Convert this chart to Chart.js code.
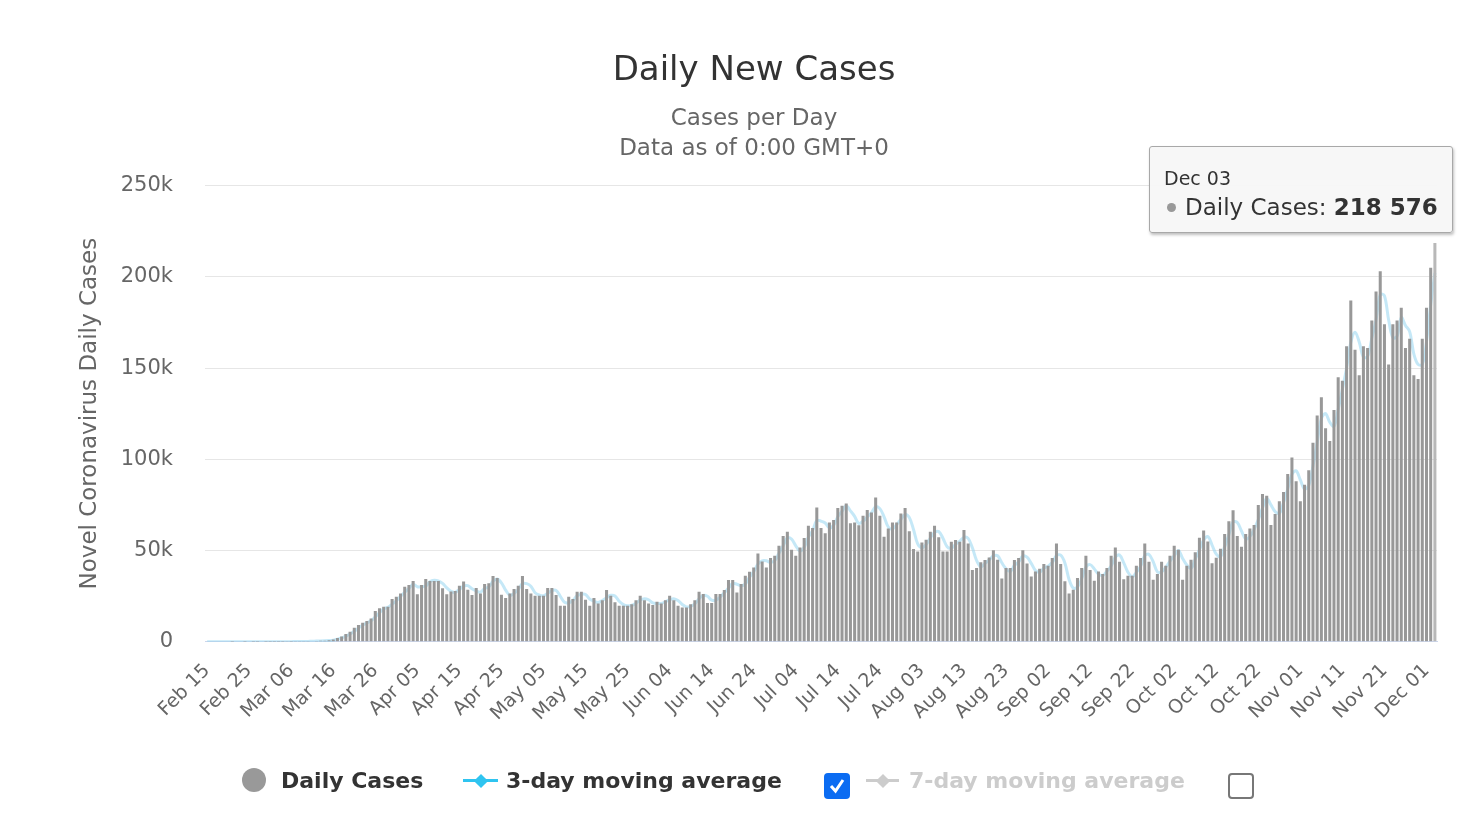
<!DOCTYPE html>
<html>
<head>
<meta charset="utf-8">
<title>Daily New Cases</title>
<script src="https://cdn.jsdelivr.net/npm/chart.js@4.4.0/dist/chart.umd.min.js"></script>
<style>
  html, body { margin: 0; padding: 0; background: #fff; }
  body { width: 1480px; height: 833px; position: relative; overflow: hidden; font-family: "DejaVu Sans", sans-serif; }
  #casesChart { position: absolute; left: 0; top: 0; }
  #tip { position: absolute; left: 1149px; top: 146px; width: 302px; height: 85px; background: rgba(247,247,247,0.96);
         border: 1px solid #a8a8a8; border-radius: 3px; box-shadow: 1px 2px 3px rgba(0,0,0,0.25); color: #333; }
  #tip .date { position: absolute; left: 14px; top: 20px; font-size: 19px; }
  #tip .row { position: absolute; left: 14px; top: 47px; font-size: 23px; white-space: nowrap; }
  #tip .bullet { display: inline-block; width: 9px; height: 9px; border-radius: 50%; background: #999; margin: 0 9px 3px 3px; vertical-align: middle; }
  .lg { position: absolute; font-size: 22px; font-weight: bold; color: #333; top: 768px; white-space: nowrap; }
  .dot { position: absolute; left: 242px; top: 768px; width: 24px; height: 24px; border-radius: 50%; background: #999; }
  .mark { position: absolute; top: 779px; height: 3px; }
  .mark i { position: absolute; left: 50%; top: 50%; width: 10px; height: 10px; margin: -5px 0 0 -5px; transform: rotate(45deg); background: inherit; }
  .box { position: absolute; top: 773px; width: 26px; height: 26px; border-radius: 4px; box-sizing: border-box; }
</style>
</head>
<body>
<canvas id="casesChart" width="1480" height="833"></canvas>

<div id="tip"><div class="date"></div><div class="row"><span class="bullet"></span>Daily Cases: <b class="val"></b></div></div>

<span class="dot"></span>
<span class="lg" style="left:281px">Daily Cases</span>
<span class="mark" style="left:463px;width:35px;background:#2fc4f0"><i></i></span>
<span class="lg" style="left:506px">3-day moving average</span>
<span class="box" style="left:824px;background:#0b6cf2"><svg width="26" height="26"><path d="M7 13 L11.5 18 L19 7" stroke="#fff" stroke-width="3" fill="none"/></svg></span>
<span class="mark" style="left:866px;width:33px;background:#cccccc"><i></i></span>
<span class="lg" style="left:909px;color:#cccccc">7-day moving average</span>
<span class="box" style="left:1228px;border:2px solid #777"></span>

<script>
// daily new cases, one array per month (Feb starts on the 15th)
const feb = [0, 0, 0, 0, 0, 0, 2, 0, 0, 18, 0, 6, 1, 0, 8];
const mar = [7, 23, 20, 31, 68, 45, 140, 116, 65, 376, 322, 382, 516, 548, 772,
  1200, 2000, 2900, 4300, 5500, 7600, 9200, 10400, 11300, 12800,
  16800, 18300, 19200, 19200, 23400, 24700];
const apr = [26500, 30200, 31100, 33300, 26000, 31100, 34400, 33300, 33300, 33300,
  29300, 26000, 27500, 27800, 30700, 33000, 28500, 25600, 29400, 26500,
  31600, 32000, 36000, 35000, 25800, 24000, 26500, 28900, 30700, 36000];
const may = [28900, 26500, 25200, 25200, 25200, 29400, 29400, 25600, 19700, 19700,
  24700, 23400, 27400, 27400, 23000, 19700, 24000, 21000, 22800, 28300,
  25200, 21600, 19700, 19700, 19700, 20600, 22800, 25200, 22800, 21000, 20100];
const jun = [21900, 21000, 22800, 25200, 22800, 19700, 18800, 18800, 20600, 22800,
  27400, 26100, 21200, 21200, 26100, 26100, 28300, 33800, 33800, 27000,
  31600, 36200, 38400, 40700, 48400, 44000, 40700, 45900, 47100, 52600];
const jul = [58000, 60300, 50400, 47100, 51700, 56800, 63600, 62300, 73600, 62300,
  59400, 65400, 66700, 73300, 74500, 75800, 64900, 65400, 63900, 69000,
  72200, 70900, 79000, 69000, 57500, 62100, 65400, 65400, 70300, 73300, 60500];
const aug = [50800, 49500, 54400, 55900, 60300, 63600, 57200, 49500, 49500, 54800,
  55700, 54800, 61200, 53900, 39300, 40400, 43500, 44800, 46200, 50200,
  45000, 34700, 40400, 40400, 44800, 45900, 50200, 42900, 35800, 38500, 40000];
const sep = [42600, 41700, 45900, 53900, 42600, 33100, 26500, 28500, 34900, 40400,
  47100, 39300, 33400, 38500, 37100, 40400, 47100, 51700, 43800, 34300,
  36200, 36200, 41700, 45900, 53900, 43800, 34000, 37100, 43800, 41700];
const oct = [47100, 52600, 50400, 34000, 41700, 45000, 49000, 57000, 61000, 55000,
  43000, 46000, 51000, 59000, 66000, 72000, 58000, 52000, 59000, 62000,
  64000, 75000, 81000, 80000, 64000, 70000, 77000, 82000, 92000, 101000, 88000];
const nov = [77000, 86000, 94000, 109000, 124000, 134000, 117000, 110000, 127000, 145000,
  143000, 162000, 187000, 160000, 146000, 162000, 161000, 176000, 192000, 203000,
  174000, 152000, 174000, 176000, 183000, 161000, 166000, 146000, 144000, 166000];
const dec = [183000, 205000, 218576];

const monthNames = ['Feb', 'Mar', 'Apr', 'May', 'Jun', 'Jul', 'Aug', 'Sep', 'Oct', 'Nov', 'Dec'];
const months = [feb, mar, apr, may, jun, jul, aug, sep, oct, nov, dec];
const firstDay = 15;      // Feb 15
const labelEvery = 10;    // a date label every 10 days
const yTicks = [0, 50000, 100000, 150000, 200000, 250000];
const yTickLabels = ['0', '50k', '100k', '150k', '200k', '250k'];

const dayLabels = [];
const dailyCases = [];
months.forEach((vals, m) => {
  vals.forEach((v, i) => {
    const d = (m === 0 ? firstDay : 1) + i;
    dayLabels.push(monthNames[m] + ' ' + String(d).padStart(2, '0'));
    dailyCases.push(v);
  });
});

// 3-day moving average of the daily values
const avg3 = dailyCases.map((v, i) => {
  const win = dailyCases.slice(Math.max(0, i - 2), i + 1);
  return win.reduce((a, b) => a + b, 0) / win.length;
});

const last = dailyCases.length - 1;
document.querySelector('#tip .date').textContent = dayLabels[last];
document.querySelector('#tip .val').textContent = String(dailyCases[last]).replace(/\B(?=(\d{3})+(?!\d))/g, ' ');

const FONT = '"DejaVu Sans", sans-serif';

let ctx = document.getElementById('casesChart').getContext('2d');
let casesChart = new Chart(ctx, {
  type: 'bar',
  data: {
    labels: dayLabels,
    datasets: [{
      type: 'bar',
      label: 'Daily Cases',
      data: dailyCases,
      backgroundColor: c => c.dataIndex === last ? '#b8b8b8' : '#989898',
      barPercentage: 0.72,
      categoryPercentage: 1,
      order: 1
    }, {
      type: 'line',
      label: '3-day moving average',
      data: avg3,
      borderColor: 'rgba(150, 214, 240, 0.55)',
      borderWidth: 3,
      pointRadius: 0,
      tension: 0.35,
      order: 2
    }]
  },
  options: {
    responsive: false,
    animation: false,
    layout: { padding: { left: 71, right: 43, top: 0, bottom: 90 } },
    plugins: {
      legend: { display: false },
      tooltip: { enabled: false },
      title: {
        display: true, text: 'Daily New Cases', color: '#333',
        font: { family: FONT, size: 34, weight: 'normal' },
        padding: { top: 51, bottom: 0 }
      },
      subtitle: {
        display: true, text: ['Cases per Day', 'Data as of 0:00 GMT+0'], color: '#666',
        font: { family: FONT, size: 23, lineHeight: 1.3 },
        padding: { top: 12, bottom: 22 }
      }
    },
    scales: {
      x: {
        grid: { display: false, drawTicks: false },
        border: { color: '#ccd6eb' },
        ticks: {
          autoSkip: false, maxRotation: 45, minRotation: 45, padding: 18,
          color: '#666', font: { family: FONT, size: 19 },
          callback: (v, i) => i % labelEvery === 0 ? dayLabels[i] : ''
        }
      },
      y: {
        min: 0, max: 250000,
        afterBuildTicks: s => { s.ticks = yTicks.map(v => ({ value: v })); },
        afterFit: s => { s.width = 134; },
        grid: { color: '#e6e6e6', drawTicks: false },
        border: { display: false },
        ticks: {
          padding: 32, color: '#666', font: { family: FONT, size: 21 },
          callback: v => yTickLabels[yTicks.indexOf(v)]
        },
        title: {
          display: true, text: 'Novel Coronavirus Daily Cases', color: '#666',
          font: { family: FONT, size: 23 }, padding: { top: 5, bottom: 6 }
        }
      }
    }
  }
});
</script>
</body>
</html>
